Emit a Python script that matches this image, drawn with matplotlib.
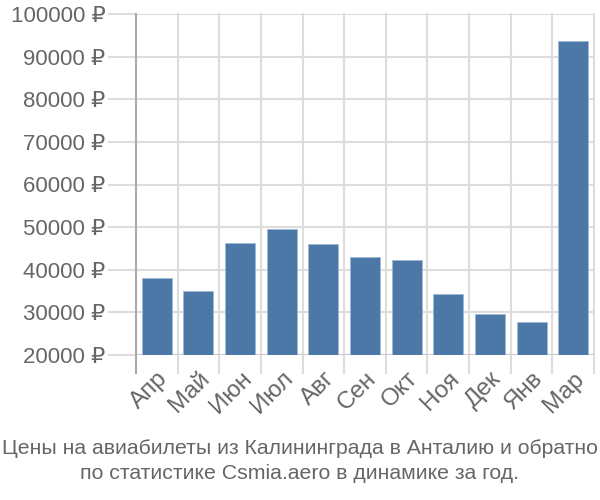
import matplotlib
matplotlib.use("Agg")
import matplotlib.pyplot as plt
from matplotlib.ticker import FuncFormatter

# monthly price data (rub)
months = ["Апр", "Май", "Июн", "Июл", "Авг", "Сен", "Окт", "Ноя", "Дек", "Янв", "Мар"]
prices = [38100, 35100, 46200, 49500, 46100, 43100, 42200, 34300, 29600, 27700, 93700]
yticks = [20000, 30000, 40000, 50000, 60000, 70000, 80000, 90000, 100000]

title = ("Цены на авиабилеты из Калининграда в Анталию и обратно\n"
         "по статистике Csmia.aero в динамике за год.")

plt.rcParams['font.family'] = ['Liberation Sans', 'DejaVu Sans']
text_color = '#666666'
grid_color = '#dddddd'

fig = plt.figure(figsize=(6, 5), dpi=100)
ax = fig.add_axes([136 / 600, 1 - 355 / 500, (594 - 136) / 600, (355 - 14) / 500])

x = list(range(len(months)))
ax.bar(x, prices, width=0.72, bottom=0, color='#4c78a8', edgecolor='#9fb9d6',
       linewidth=0.6, zorder=3)

ax.set_xlim(-0.5, len(months) - 0.5)
ax.set_ylim(20000, 100000)

# horizontal grid + tick stubs
ax.set_yticks(yticks)
ax.yaxis.set_major_formatter(FuncFormatter(lambda v, p: f"{int(v)} ₽"))
ax.grid(axis='y', color=grid_color, linewidth=1.5, zorder=0)
ax.tick_params(axis='y', length=20, width=1.5, color=grid_color, labelcolor=text_color,
               labelsize=16, pad=2)

# category labels, boundaries drawn as gridlines
ax.set_xticks(x)
ax.set_xticklabels(months, rotation=45, ha='right', rotation_mode='anchor')
ax.tick_params(axis='x', length=0, labelcolor=text_color, labelsize=17.5, pad=9)
bounds = [i - 0.5 for i in range(len(months) + 1)]
for b in bounds[1:]:
    ax.plot([b, b], [15800, 100000], color=grid_color, linewidth=1.5, zorder=0, clip_on=False)
ax.plot([bounds[0], bounds[0]], [15800, 100000], color='#aaaaaa', linewidth=1.5, zorder=4,
        clip_on=False)

for s in ax.spines.values():
    s.set_visible(False)
ax.axhline(20000, color='#cccccc', linewidth=1.5, zorder=2)

fig.text(0.5, 0.078, title, ha='center', va='center', color=text_color, fontsize=15.3,
         linespacing=1.35)

fig.savefig("out.png", dpi=100)
